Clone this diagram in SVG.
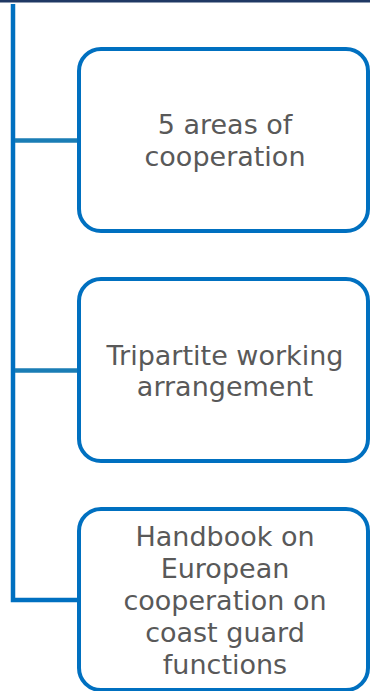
<svg xmlns="http://www.w3.org/2000/svg" width="370" height="691" viewBox="0 0 370 691">
<style>
.box{fill:#FFFFFF;stroke:#0070C0;stroke-width:4}
.lbl{font-family:"DejaVu Sans",Verdana,sans-serif;font-size:27px;fill:#595959;text-anchor:middle}
.trunk{fill:none;stroke:#0070C0;stroke-width:4.5}
.branch{fill:none;stroke:#1A7DB5;stroke-width:4.5}
</style>
<rect x="0" y="0" width="370" height="691" fill="#FFFFFF"/>
<rect x="0" y="0" width="370" height="2.5" fill="#1F3864"/>
<g id="connectors">
<path class="trunk" d="M13,4 V600 H79"/>
<path class="branch" d="M15,140.5 H77"/>
<path class="branch" d="M15,370.5 H77"/>
</g>
<g id="node1">
<rect class="box" x="79" y="49" width="289" height="182" rx="22"/>
<text class="lbl" x="225" y="133.5">5 areas of</text>
<text class="lbl" x="225" y="165.5">cooperation</text>
</g>
<g id="node2">
<rect class="box" x="79" y="279" width="289" height="182" rx="22"/>
<text class="lbl" x="225" y="364.5">Tripartite working</text>
<text class="lbl" x="225" y="395.5">arrangement</text>
</g>
<g id="node3">
<rect class="box" x="79" y="509" width="289" height="181" rx="22"/>
<text class="lbl" x="225" y="545.5">Handbook on</text>
<text class="lbl" x="225" y="577.5">European</text>
<text class="lbl" x="225" y="609.5">cooperation on</text>
<text class="lbl" x="225" y="641.5">coast guard</text>
<text class="lbl" x="225" y="673.5">functions</text>
</g>
</svg>
